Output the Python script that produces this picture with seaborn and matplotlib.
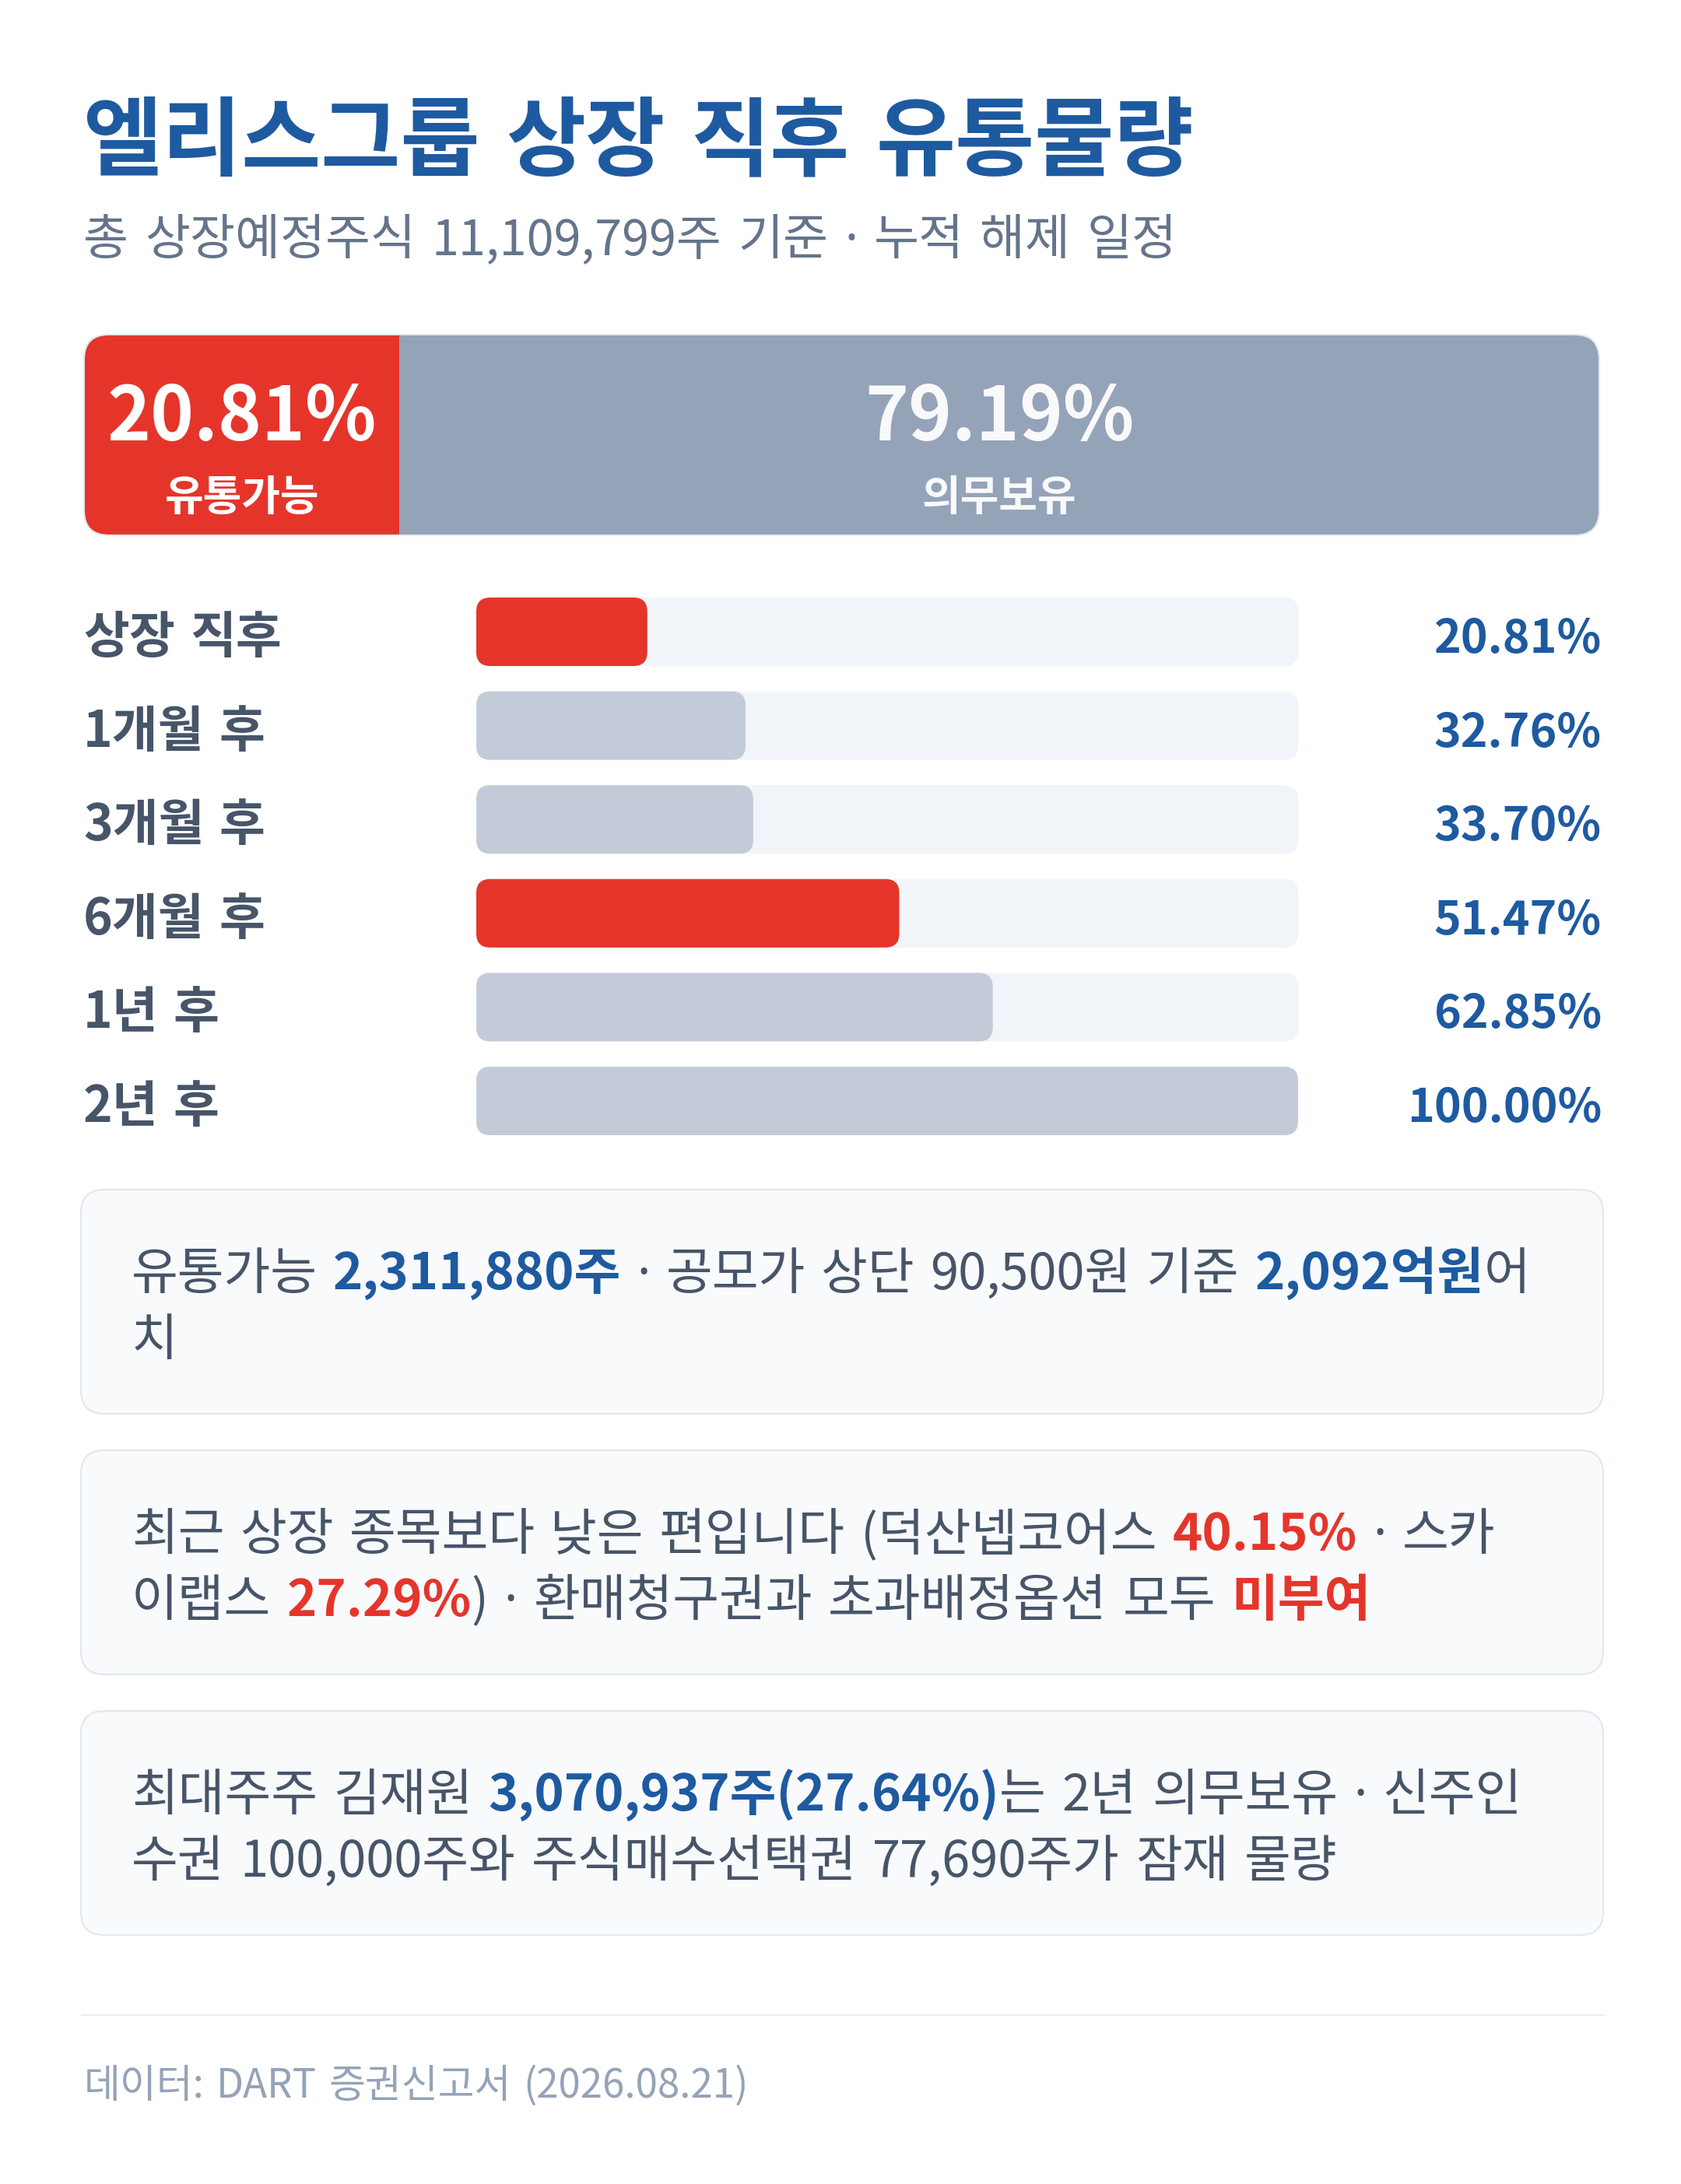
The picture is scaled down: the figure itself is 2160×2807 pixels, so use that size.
import re
import numpy as np
import pandas as pd
import matplotlib
matplotlib.use("Agg")
import matplotlib.pyplot as plt
import matplotlib.transforms as mtransforms
from matplotlib.patches import FancyBboxPatch
import seaborn as sns

# ---------------- data ----------------
title = "엘리스그룹 상장 직후 유통물량"
subtitle = "총 상장예정주식 11,109,799주 기준 · 누적 해제 일정"

top_segments = ["유통가능", "의무보유"]
top_values = [20.81, 79.19]

categories = ["상장 직후", "1개월 후", "3개월 후", "6개월 후", "1년 후", "2년 후"]
cum_values = [20.81, 32.76, 33.70, 51.47, 62.85, 100.00]
highlight = [True, False, False, True, False, False]
track_max = 100

# rich-text notes: (text, style) with style in {"n", "b", "r"}
note1_lines = [
    [("유통가능 ", "n"), ("2,311,880주", "b"), (" · 공모가 상단 90,500원 기준 ", "n"), ("2,092억원", "b"), ("어", "n")],
    [("치", "n")],
]
note2_lines = [
    [("최근 상장 종목보다 낮은 편입니다 (덕산넵코어스 ", "n"), ("40.15%", "r"), (" · 스카", "n")],
    [("이랩스 ", "n"), ("27.29%", "r"), (") · 환매청구권과 초과배정옵션 모두 ", "n"), ("미부여", "r")],
]
note3_lines = [
    [("최대주주 김재원 ", "n"), ("3,070,937주(27.64%)", "b"), ("는 2년 의무보유 · 신주인", "n")],
    [("수권 100,000주와 주식매수선택권 77,690주가 잠재 물량", "n")],
]
notes = [note1_lines, note2_lines, note3_lines]
footer = "데이터: DART 증권신고서 (2026.08.21)"

# ---------------- style ----------------
W, H = 2160, 2807
BLUE = "#1e5aa0"
RED = "#e5352b"
SLATE = "#475569"
SUB = "#64748b"
TOPGRAY = "#94a3b8"
FILLGRAY = "#c4cbd8"
TRACK = "#f1f5f9"
BOXFACE = "#f8fafc"
BOXEDGE = "#e2e8f0"
FOOT = "#94a3b8"

sns.set_theme(style="white")
FAM = ["Noto Sans CJK KR", "DejaVu Sans"]
DOTFAM = ["Noto Sans", "DejaVu Sans"]
plt.rcParams["font.family"] = FAM

fig = plt.figure(figsize=(W / 100, H / 100), dpi=100)
fig.patch.set_facecolor("white")
bg = fig.add_axes([0, 0, 1, 1])
bg.set_xlim(0, W)
bg.set_ylim(H, 0)
bg.axis("off")


def pt(px):
    return px * 0.72


def fig_rect(x0, y0, x1, y1):
    return [x0 / W, 1 - y1 / H, (x1 - x0) / W, (y1 - y0) / H]


renderer = fig.canvas.get_renderer()
_wcache = {}


def text_w(s, px, weight, fam):
    key = (s, px, weight, tuple(fam))
    if key not in _wcache:
        t = bg.text(0, 0, "|" + s + "|", fontsize=pt(px), fontweight=weight, family=fam)
        w1 = t.get_window_extent(renderer).width
        t.set_text("||")
        w0 = t.get_window_extent(renderer).width
        t.remove()
        _wcache[key] = w1 - w0
    return _wcache[key]


def rich(ax, x, y, segs, px, space=0.30, transform=None, zorder=3):
    """segs: list of (text, color, weight). Lays pieces out left to right (pixel x)."""
    tr = transform if transform is not None else ax.transData
    for s, col, wt in segs:
        for piece in re.split(r"( |·)", s):
            if piece == "":
                continue
            if piece == " ":
                x += space * px
                continue
            fam = DOTFAM if piece == "·" else FAM
            w_ = "normal" if piece == "·" else wt
            ax.text(x, y, piece, transform=tr, ha="left", va="baseline",
                    fontsize=pt(px), fontweight=w_, color=col, family=fam,
                    zorder=zorder, clip_on=False)
            x += text_w(piece, px, w_, fam)
    return x


# ---------------- title ----------------
rich(bg, 106, 217, [(title, BLUE, "bold")], 111, space=0.30)
rich(bg, 107, 327, [(subtitle, SUB, "normal")], 63, space=0.33)

# ---------------- top stacked bar ----------------
TX0, TX1, TY0, TY1 = 108, 2055, 430, 688
ax_top = fig.add_axes(fig_rect(TX0, TY0, TX1, TY1))
cum_top = np.cumsum(top_values)
df_top = pd.DataFrame({"row": ["전체"], "total": [cum_top[-1]], "first": [cum_top[0]]})
sns.barplot(data=df_top, x="total", y="row", color=TOPGRAY, saturation=1,
            width=1.0, ax=ax_top, errorbar=None, linewidth=0)
sns.barplot(data=df_top, x="first", y="row", color=RED, saturation=1,
            width=1.0, ax=ax_top, errorbar=None, linewidth=0)
ax_top.set_xlim(0, 100)
ax_top.set_ylim(0.5, -0.5)
ax_top.axis("off")

px_x = (TX1 - TX0) / 100.0
px_y = (TY1 - TY0) / 1.0
r_top = 32
patches = list(ax_top.patches)
base = patches[0]
rb = FancyBboxPatch((base.get_x(), base.get_y()), base.get_width(), base.get_height(),
                    boxstyle=f"round,pad=0,rounding_size={r_top / px_x}",
                    mutation_aspect=px_x / px_y, facecolor=TOPGRAY, edgecolor="none",
                    zorder=1)
base.remove()
ax_top.add_patch(rb)
rb_edge = FancyBboxPatch((base.get_x(), base.get_y()), base.get_width(), base.get_height(),
                         boxstyle=f"round,pad=0,rounding_size={r_top / px_x}",
                         mutation_aspect=px_x / px_y, facecolor="none", edgecolor=BOXEDGE,
                         linewidth=1.5, zorder=3, clip_on=False)
ax_top.add_patch(rb_edge)
red = patches[1]
red.set_zorder(2)
red.set_linewidth(0)
red.set_clip_path(rb)

tr_top = mtransforms.blended_transform_factory(ax_top.transData, bg.transData)
centers = cum_top - np.array(top_values) / 2
for i, (lab, v) in enumerate(zip(top_segments, top_values)):
    alpha = 1.0 if i == 0 else 0.95
    ax_top.text(centers[i], 566, f"{v:.2f}%", transform=tr_top, ha="center", va="baseline",
                fontsize=pt(95), fontweight="bold", color="white", alpha=alpha, family=FAM,
                zorder=5, clip_on=False)
    ax_top.text(centers[i], 656, lab, transform=tr_top, ha="center", va="baseline",
                fontsize=pt(54), fontweight="bold", color="white", alpha=alpha, family=FAM,
                zorder=5, clip_on=False)

# ---------------- progress bars ----------------
BX0, BX1 = 612, 1668
ROW0, ROWSTEP = 812, 120.6
n = len(categories)
by0 = ROW0 - ROWSTEP / 2
by1 = by0 + n * ROWSTEP
ax_b = fig.add_axes(fig_rect(BX0, by0, BX1, by1))
df = pd.DataFrame({"cat": categories, "val": cum_values, "track": [track_max] * n})
palette = {c: (RED if h else FILLGRAY) for c, h in zip(categories, highlight)}
sns.barplot(data=df, x="track", y="cat", order=categories, color=TRACK, saturation=1,
            width=0.73, ax=ax_b, errorbar=None, linewidth=0)
sns.barplot(data=df, x="val", y="cat", hue="cat", order=categories, hue_order=categories,
            palette=palette, saturation=1, width=0.73, ax=ax_b, errorbar=None,
            legend=False, linewidth=0)
ax_b.set_xlim(0, 100)
ax_b.set_ylim(n - 0.5, -0.5)
ax_b.axis("off")

bpx_x = (BX1 - BX0) / 100.0
bpx_y = ROWSTEP
r_bar = 18
for p in list(ax_b.patches):
    x, y, w, h = p.get_x(), p.get_y(), p.get_width(), p.get_height()
    fc = p.get_facecolor()
    z = p.get_zorder()
    p.remove()
    ax_b.add_patch(FancyBboxPatch((x, y), w, h,
                                  boxstyle=f"round,pad=0,rounding_size={r_bar / bpx_x}",
                                  mutation_aspect=bpx_x / bpx_y, facecolor=fc,
                                  edgecolor="none", zorder=z))

tr_rows = mtransforms.blended_transform_factory(bg.transData, ax_b.transData)
for i, (c, v) in enumerate(zip(categories, cum_values)):
    yb = i + 27 / ROWSTEP  # baseline slightly below row center
    rich(bg, 107, yb, [(c, SLATE, "bold")], 64, space=0.30, transform=tr_rows)
    bg.text(2058, yb, f"{v:.2f}%", transform=tr_rows, ha="right", va="baseline",
            fontsize=pt(59), fontweight="bold", color=BLUE, family=FAM)

# ---------------- note boxes ----------------
BOX_X0, BOX_X1 = 104, 2060
box_tops = [1529, 1864, 2199]
BOX_H = 288
TEXT_X = 169
LINE1, LSTEP = 128, 85
NOTE_PX = 65
styles = {"n": (SLATE, "normal"), "b": (BLUE, "bold"), "r": (RED, "bold")}

for top, lines in zip(box_tops, notes):
    bg.add_patch(FancyBboxPatch((BOX_X0, top), BOX_X1 - BOX_X0, BOX_H,
                                boxstyle="round,pad=0,rounding_size=30",
                                facecolor=BOXFACE, edgecolor=BOXEDGE, linewidth=1.6,
                                zorder=1))
    for li, segs in enumerate(lines):
        yb = top + LINE1 + li * LSTEP
        rich(bg, TEXT_X, yb, [(s, *styles[st]) for s, st in segs], NOTE_PX, space=0.31)

# ---------------- footer ----------------
bg.plot([104, 2062], [2590, 2590], color="#e9eef4", lw=1.6, solid_capstyle="butt")
rich(bg, 108, 2696, [(footer, FOOT, "normal")], 51, space=0.30)

fig.savefig("out.png", dpi=100, facecolor="white")
